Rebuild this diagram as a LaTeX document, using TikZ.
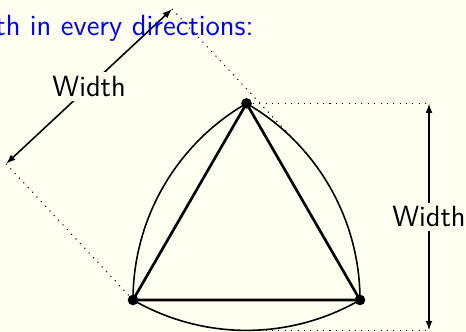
\documentclass[tikz,border=0pt]{standalone}
\usetikzlibrary{calc,arrows.meta}
\definecolor{cream}{RGB}{255,255,242}

\begin{document}
\begin{tikzpicture}[font=\sffamily\fontsize{11}{13}\selectfont,
  vertex/.style={circle,fill=black,inner sep=0pt,minimum size=4pt},
  support/.style={dotted,thin},
  widthtip/.style={{Latex[length=3.6pt,width=2.6pt]}-{Latex[length=3.6pt,width=2.6pt]}},
  widthlabel/.style={fill=cream,inner sep=1.5pt}]
% the page, cream
\fill[cream] (-1.758,-0.423) rectangle (4.401,3.965);
\useasboundingbox (-1.758,-0.423) rectangle (4.401,3.965);
% the triangle and its three arcs of radius = side
\coordinate (A) at (0,0); \coordinate (B) at (3,0); \coordinate (C) at (60:3);
\draw[semithick] (A) arc[start angle=240,end angle=300,radius=3] arc[start angle=0,end angle=60,radius=3] arc[start angle=120,end angle=180,radius=3];
\draw[line width=1pt] (A) -- (B) -- (C) -- cycle;
\node[vertex] (a) at (A) {}; \node[vertex] (b) at (B) {}; \node[vertex] (c) at (C) {};
% width seen from a slanted direction
\coordinate (P) at (43:3);
\coordinate (Q1) at ($(A)+(133:2.46)$); \coordinate (Q2) at ($(Q1)+(43:3)$);
\draw[support] (a.center) -- (Q1); \draw[support] (P) -- (Q2);
\draw[semithick,widthtip] (Q1) -- (Q2) node[midway,widthlabel] (w1) {Width};
% width seen from above
\coordinate (D) at (1.5,{1.5*sqrt(3)-3});
\coordinate (E) at (3.912,{1.5*sqrt(3)}); \coordinate (F) at (3.912,{1.5*sqrt(3)-3});
\draw[support] (c.center) -- (E); \draw[support] (D) -- (F);
\draw[semithick,widthtip] (F) -- (E) node[midway,widthlabel] (w2) {Width};
% heading, cut by the page edge
\node[blue,anchor=base east,inner sep=0pt] (head) at (1.60,3.50) {th in every directions:};
\end{tikzpicture}
\end{document}
